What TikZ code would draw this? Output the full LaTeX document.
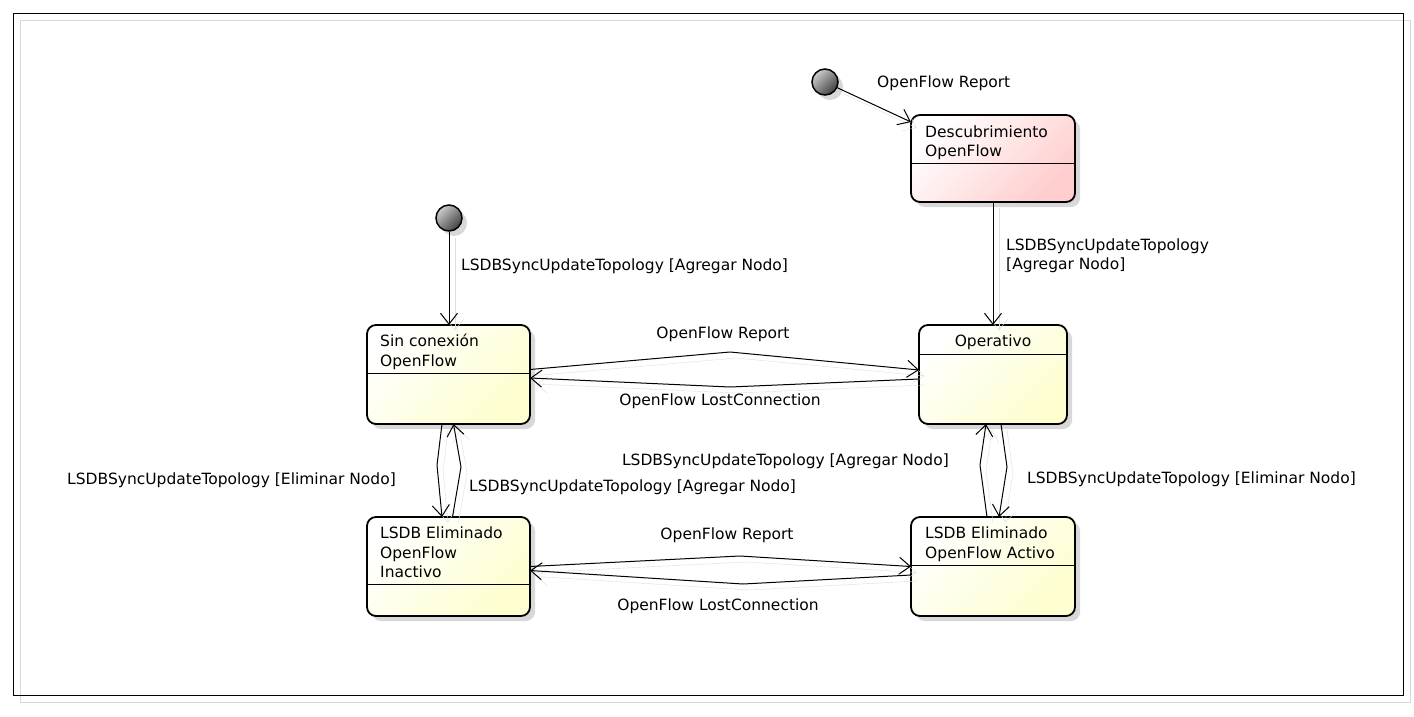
\documentclass[tikz,border=0pt]{standalone}
\usepackage{fontspec}
\setmainfont{DejaVu Sans}
\usetikzlibrary{arrows.meta,shadows}
\definecolor{stfill}{RGB}{254,254,206}
\definecolor{stpink}{RGB}{255,205,205}
\definecolor{shadowgray}{RGB}{216,216,216}
\definecolor{lineshadow}{RGB}{222,222,222}
\begin{document}
\begin{tikzpicture}[x=1pt,y=-1pt,
  font=\fontsize{15.5}{19.5}\selectfont,
  statebox/.style={draw=black, line width=1.8pt, rounded corners=9pt,
    top color=white, bottom color=stfill, shading angle=45,
    drop shadow={shadow xshift=5pt, shadow yshift=-5pt, fill=shadowgray, opacity=1},
    inner sep=0pt, outer sep=0pt},
  pinkbox/.style={top color=white, bottom color=stpink, shading angle=45},
  initstate/.style={circle, draw=black, line width=1.5pt, minimum size=26pt, inner sep=0pt,
    top color=black!20, bottom color=black!75, shading angle=45,
    drop shadow={shadow xshift=5pt, shadow yshift=-5pt, fill=shadowgray, opacity=1}},
  divider/.style={draw=black, line width=1pt},
  txt/.style={anchor=base west, inner sep=0pt},
  ctxt/.style={anchor=base, inner sep=0pt},
  edge/.style={draw=black, line width=1pt,
    -{Straight Barb[length=11pt,width=17pt,line width=1pt]},
    preaction={draw=lineshadow, transform canvas={shift={(6,6)}}}}
]
\useasboundingbox (0,0) rectangle (1414,716);
\fill[white] (0,0) rectangle (1414,716);
% frame
\draw[shadowgray, line width=1pt] (20,20) rectangle (1410,702);
\draw[black, line width=1pt] (13,13) rectangle (1403,695);

% states
\node[statebox, pinkbox, minimum width=164pt, minimum height=87pt] (desc) at (993,158.5) {};
\node[statebox, minimum width=163pt, minimum height=99pt] (sin) at (448.5,374.5) {};
\node[statebox, minimum width=148pt, minimum height=99pt] (oper) at (993,374.5) {};
\node[statebox, minimum width=163pt, minimum height=99pt] (inac) at (448.5,566.5) {};
\node[statebox, minimum width=164pt, minimum height=99pt] (act) at (993,566.5) {};

\draw[divider] (desc.west |- 0,163) -- (desc.east |- 0,163);
\draw[divider] (sin.west |- 0,373) -- (sin.east |- 0,373);
\draw[divider] (oper.west |- 0,354) -- (oper.east |- 0,354);
\draw[divider] (inac.west |- 0,584) -- (inac.east |- 0,584);
\draw[divider] (act.west |- 0,565) -- (act.east |- 0,565);

\node[txt] (descA) at (925,137) {Descubrimiento};
\node[txt] (descB) at (925,156.5) {OpenFlow};
\node[txt] (sinA) at (380,346.5) {Sin conexión};
\node[txt] (sinB) at (380,366) {OpenFlow};
\node[ctxt] (operA) at (993,346.5) {Operativo};
\node[txt] (inacA) at (380,538.5) {LSDB Eliminado};
\node[txt] (inacB) at (380,558) {OpenFlow};
\node[txt] (inacC) at (380,577.5) {Inactivo};
\node[txt] (actA) at (925,538.5) {LSDB Eliminado};
\node[txt] (actB) at (925,558) {OpenFlow Activo};

% initial states
\node[initstate] (init1) at (825,82) {};
\node[initstate] (init2) at (449,218) {};

% transitions
\draw[edge] (init1) -- ([yshift=-7pt]desc.north west);
\draw[edge] (init2) -- (init2 |- sin.north);
\draw[edge] (desc.south) -- (oper.north);
\draw[edge] ([yshift=5pt]sin.east) -- (730,352) -- ([yshift=4.5pt]oper.west);
\draw[edge] ([yshift=-4.5pt]oper.west) -- (730,387) -- ([yshift=-3.5pt]sin.east);
\draw[edge] ([xshift=-6.5pt]sin.south) -- (437,465) -- ([xshift=-6.5pt]inac.north);
\draw[edge] ([xshift=4pt]inac.north) -- (461,467) -- ([xshift=5pt]sin.south);
\draw[edge] ([xshift=-6pt]act.north) -- (980,465) -- ([xshift=-7pt]oper.south);
\draw[edge] ([xshift=8pt]oper.south) -- (1007,467) -- ([xshift=6pt]act.north);
\draw[edge] (inac.east) -- (740,556) -- (act.west);
\draw[edge] ([yshift=-8.5pt]act.west) -- (743,584) -- ([yshift=-4pt]inac.east);

% labels
\node[txt] (l1) at (877,87.5) {OpenFlow Report};
\node[txt] (l2) at (461,270.5) {LSDBSyncUpdateTopology [Agregar Nodo]};
\node[txt] (l3a) at (1006,250.5) {LSDBSyncUpdateTopology};
\node[txt] (l3b) at (1006,269.5) {[Agregar Nodo]};
\node[ctxt] (l4) at (723,338.5) {OpenFlow Report};
\node[ctxt] (l5) at (720,405.5) {OpenFlow LostConnection};
\node[anchor=base east, inner sep=0pt] (l6) at (396,484.5) {LSDBSyncUpdateTopology [Eliminar Nodo]};
\node[txt] (l7) at (469,491.5) {LSDBSyncUpdateTopology [Agregar Nodo]};
\node[anchor=base east, inner sep=0pt] (l8) at (949,465.5) {LSDBSyncUpdateTopology [Agregar Nodo]};
\node[txt] (l9) at (1027,483.5) {LSDBSyncUpdateTopology [Eliminar Nodo]};
\node[ctxt] (l10) at (727,539.5) {OpenFlow Report};
\node[ctxt] (l11) at (718,610.5) {OpenFlow LostConnection};
\end{tikzpicture}
\end{document}
